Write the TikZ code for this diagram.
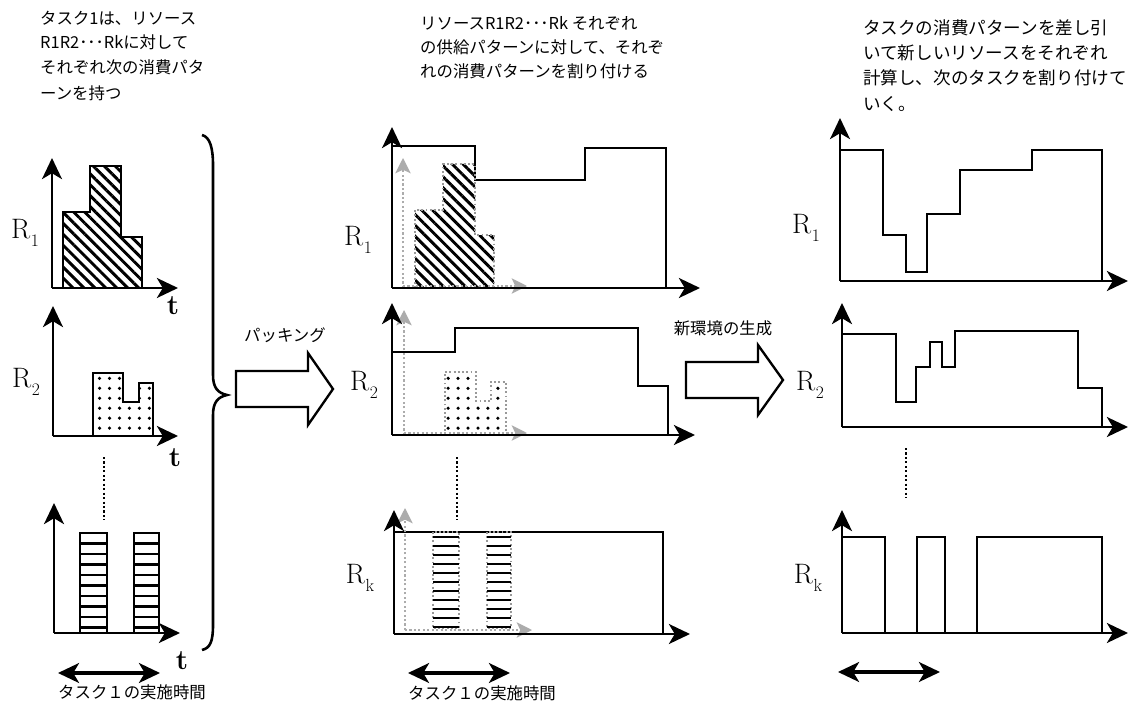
\documentclass[tikz,border=0pt]{standalone}
\usepackage{fontspec}
\newfontfamily\jp{Noto Sans CJK JP}
\usetikzlibrary{arrows.meta,patterns.meta}
\newcommand\Rsub[1]{R\kern0.5pt\raisebox{-0.3em}{\fontsize{15}{15}\selectfont #1}}
\begin{document}
\begin{tikzpicture}[x={(0.03cm,0)},y={(0,-0.03cm)},
  ax/.style={line width=2.5pt,-{Stealth[length=18pt,width=17pt,inset=5pt]}},
  ln/.style={line width=2.4pt,line join=miter},
  hatchfill/.style={pattern={Lines[angle=-45,distance=6.6pt,line width=2.5pt]}},
  dotfill/.style={pattern={Dots[distance=8.5pt,radius=1.5pt]}},
  gar/.style={gray!65,line width=1.8pt,dotted,-{Stealth[length=13pt,width=13pt,inset=3pt]}},
  dotln/.style={line width=1.8pt,dotted},
  dotout/.style={gray!80,line width=1.6pt,dotted},
  lab/.style={font=\fontsize{24}{28}\selectfont,inner sep=0},
  tl/.style={font=\fontsize{24}{28}\selectfont\bfseries,inner sep=0},
  jt/.style={font=\jp\fontsize{14}{16}\selectfont,anchor=west,inner sep=0},
  jtr/.style={font=\jp\fontsize{15}{17}\selectfont,anchor=west,inner sep=0},
  dbl/.style={line width=2.6pt,{Stealth[length=18pt,width=17pt,inset=5pt]}-{Stealth[length=18pt,width=17pt,inset=5pt]}},
  blk/.style={line width=2pt,line join=miter,fill=white}
]
\useasboundingbox[fill=white] (0,0) rectangle (1129,707);

% ---------- texts ----------
\node[jt] (tl1) at (40,18) {タスク1は、リソース};
\node[jt] (tl2) at (40,42) {R1R2･･･Rkに対して};
\node[jt] (tl3) at (40,67) {それぞれ次の消費パタ};
\node[jt] (tl4) at (40,93) {ーンを持つ};

\node[jt] (tm1) at (420,23) {リソースR1R2･･･Rk それぞれ};
\node[jt] (tm2) at (420,47) {の供給パターンに対して、それぞ};
\node[jt] (tm3) at (420,71) {れの消費パターンを割り付ける};

\node[jtr] (tr1) at (863,28) {タスクの消費パターンを差し引};
\node[jtr] (tr2) at (863,53) {いて新しいリソースをそれぞれ};
\node[jtr] (tr3) at (863,78) {計算し、次のタスクを割り付けて};
\node[jtr] (tr4) at (863,104) {いく。};

% ---------- left column ----------
\draw[ln,hatchfill] (63,288) -- (63,212) -- (90,212) -- (90,166) -- (121,166) -- (121,237) -- (142,237) -- (142,288) -- cycle;
\draw[ax] (52,288) -- (52,158);
\draw[ax] (52,288) -- (178,288);
\node[lab] (lR1) at (25,233) {\Rsub{1}};
\node[tl] (lt1) at (173,306) {t};

\draw[ln,dotfill] (93,436) -- (93,373) -- (123,373) -- (123,402) -- (139,402) -- (139,383) -- (153,383) -- (153,436) -- cycle;
\draw[ax] (53,436) -- (53,306);
\draw[ax] (53,436) -- (178,436);
\node[lab] (lR2) at (26,382) {\Rsub{2}};
\node[tl] (lt2) at (175,458) {t};

\draw[dotln] (104,457) -- (104,520);

\draw[ln] (80,533) rectangle (107,633);
\draw[ln] (134,533) rectangle (159,633);
\foreach \i in {1,...,9}{
  \draw[line width=2pt] (80,533+\i*10.5) -- (107,533+\i*10.5);
  \draw[line width=2pt] (134,533+\i*10.5) -- (159,533+\i*10.5);
}
\draw[ax] (54,633) -- (54,503);
\draw[ax] (54,633) -- (180,633);
\node[tl] (lt3) at (182,661) {t};

\coordinate (la1) at (58,673);
\coordinate (la2) at (160,673);
\draw[dbl] (la1) -- (la2);
\node[jt] (lbt) at (58,692) {タスク１の実施時間};

% brace
\draw[line width=2.2pt] (202,135) .. controls (210,137) and (213,148) .. (213,165) -- (213,375)
  .. controls (213,388) and (218,393) .. (227,395)
  .. controls (218,397) and (213,402) .. (213,415) -- (213,625)
  .. controls (213,642) and (210,648) .. (202,650);

% block arrow 1
\draw[blk] (236,371) -- (308,371) -- (308,353) -- (333,389) -- (308,425) -- (308,407) -- (236,407) -- cycle;
\node[font=\jp\fontsize{14}{16}\selectfont,inner sep=0] (pk) at (285,335) {パッキング};

% ---------- middle column ----------
\draw[ln] (392,146) -- (475,146) -- (475,180) -- (585,180) -- (585,148) -- (666,148) -- (666,288);
\fill[hatchfill] (415,288) -- (415,210) -- (443,210) -- (443,164) -- (475,164) -- (475,235) -- (494,235) -- (494,288) -- cycle;
\draw[dotout] (415,288) -- (415,210) -- (443,210) -- (443,164) -- (475,164) -- (475,235) -- (494,235) -- (494,288);
\draw[gar] (403,288) -- (403,158);
\draw[gar] (403,286) -- (527,286);
\draw[ax] (392,288) -- (392,127);
\draw[ax] (392,288) -- (700,288);
\node[lab] (mR1) at (358,240) {\Rsub{1}};

\draw[ln] (392,352) -- (455,352) -- (455,328) -- (638,328) -- (638,386) -- (668,386) -- (668,435);
\fill[dotfill] (445,435) -- (445,372) -- (476,372) -- (476,401) -- (491,401) -- (491,382) -- (506,382) -- (506,435) -- cycle;
\draw[dotout] (445,435) -- (445,372) -- (476,372) -- (476,401) -- (491,401) -- (491,382) -- (506,382) -- (506,435);
\draw[gar] (404,435) -- (404,310);
\draw[gar] (404,433) -- (527,433);
\draw[ax] (392,435) -- (392,303);
\draw[ax] (392,435) -- (695,435);
\node[lab] (mR2) at (364,385) {\Rsub{2}};

\draw[dotln] (457,457) -- (457,520);

\draw[ln] (394,532) -- (663,532) -- (663,634);
\draw[dotout] (433,532) rectangle (459,628);
\draw[dotout] (487,532) rectangle (511,628);
\foreach \i in {0,...,10}{
  \draw[line width=2pt] (433,537+\i*9) -- (459,537+\i*9);
  \draw[line width=2pt] (487,537+\i*9) -- (511,537+\i*9);
}
\draw[gar] (405,630) -- (405,508);
\draw[gar] (405,630) -- (532,630);
\draw[ax] (394,634) -- (394,510);
\draw[ax] (394,634) -- (690,634);
\node[lab] (mRk) at (360,578) {\Rsub{k}};

\coordinate (ma1) at (408,673);
\coordinate (ma2) at (510,673);
\draw[dbl] (ma1) -- (ma2);
\node[jt] (mbt) at (408,693) {タスク１の実施時間};

% block arrow 2
\draw[blk] (686,362) -- (758,362) -- (758,345) -- (783,380) -- (758,415) -- (758,398) -- (686,398) -- cycle;
\node[font=\jp\fontsize{14}{16}\selectfont,inner sep=0] (nk) at (723,328) {新環境の生成};

% ---------- right column ----------
\draw[ln] (840,150) -- (883,150) -- (883,235) -- (906,235) -- (906,272) -- (927,272) -- (927,214) -- (960,214) -- (960,170) -- (1032,170) -- (1032,150) -- (1102,150) -- (1102,281);
\draw[ax] (840,281) -- (840,118);
\draw[ax] (840,281) -- (1128,281);
\node[lab] (rR1) at (806,228) {\Rsub{1}};

\draw[ln] (842,334) -- (896,334) -- (896,402) -- (916,402) -- (916,367) -- (930,367) -- (930,342) -- (942,342) -- (942,367) -- (955,367) -- (955,331) -- (1078,331) -- (1078,388) -- (1102,388) -- (1102,427);
\draw[ax] (842,427) -- (842,303);
\draw[ax] (842,427) -- (1128,427);
\node[lab] (rR2) at (810,385) {\Rsub{2}};

\draw[dotln] (906,448) -- (906,497);

\draw[ln] (842,537) -- (885,537) -- (885,633);
\draw[ln] (917,633) -- (917,537) -- (945,537) -- (945,633);
\draw[ln] (977,633) -- (977,537) -- (1102,537) -- (1102,633);
\draw[ax] (842,633) -- (842,510);
\draw[ax] (842,633) -- (1128,633);
\node[lab] (rRk) at (808,578) {\Rsub{k}};

\coordinate (ra1) at (838,672);
\coordinate (ra2) at (940,672);
\draw[dbl] (ra1) -- (ra2);
\end{tikzpicture}
\end{document}
